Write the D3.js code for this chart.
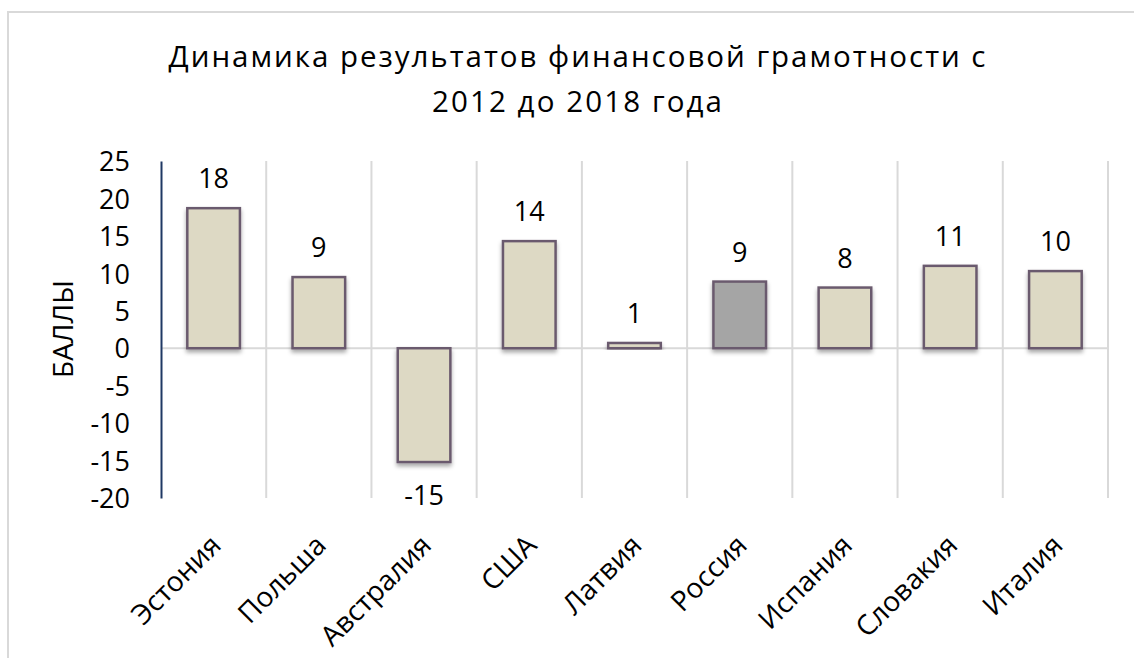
<!DOCTYPE html>
<html><head><meta charset="utf-8">
<script src="https://cdn.jsdelivr.net/npm/d3@7"></script>
<style>body{margin:0;background:#fff}svg{display:block}text{font-family:"Open Sans",sans-serif;fill:#000}</style>
</head><body>
<svg id="c" width="1134" height="658"></svg>
<script>
const categories = ["Эстония","Польша","Австралия","США","Латвия","Россия","Испания","Словакия","Италия"];
const values = [18.7, 9.5, -15.2, 14.3, 0.7, 8.9, 8.1, 11.0, 10.3];
const valueLabels = ["18","9","-15","14","1","9","8","11","10"];
const yTicks = [25,20,15,10,5,0,-5,-10,-15,-20];
const highlighted = ["Россия"];
const titleLines = ["Динамика результатов финансовой грамотности с","2012 до 2018 года"];
const yTitle = "БАЛЛЫ";

const svg = d3.select("#c");
const m = {l:161, r:1108, t:161, b:498};
const FS = 27;

svg.append("rect").attr("x",8).attr("y",12).attr("width",1200).attr("height",700)
  .attr("fill","#fff").attr("stroke","#d9d9d9").attr("stroke-width",2);

const defs = svg.append("defs");
const f = defs.append("filter").attr("id","sh").attr("x","-20%").attr("y","-20%").attr("width","140%").attr("height","140%");
f.append("feDropShadow").attr("dx",0).attr("dy",3).attr("stdDeviation",2).attr("flood-color","#000").attr("flood-opacity",0.35);

const x = d3.scaleBand().domain(categories).range([m.l,m.r]).paddingInner(0.5).paddingOuter(0.25);
const y = d3.scaleLinear().domain([d3.min(yTicks),d3.max(yTicks)]).range([m.b,m.t]);
const step = x.step();

// vertical gridlines at category boundaries
const bounds = categories.slice(1).map(c => x(c) - step*0.25).concat([m.r]);
svg.append("g").selectAll("line").data(bounds).join("line")
  .attr("x1",d=>d).attr("x2",d=>d).attr("y1",m.t).attr("y2",m.b)
  .attr("stroke","#d9d9d9").attr("stroke-width",2);

// zero line
svg.append("line").attr("x1",m.l).attr("x2",m.r).attr("y1",y(0)).attr("y2",y(0))
  .attr("stroke","#d9d9d9").attr("stroke-width",2);

// bars
const data = categories.map((c,i)=>({c, v:values[i], lab:valueLabels[i]}));
svg.append("g").selectAll("rect").data(data).join("rect")
  .attr("x",d=>x(d.c)).attr("width",x.bandwidth())
  .attr("y",d=>y(Math.max(0,d.v))).attr("height",d=>Math.abs(y(d.v)-y(0)))
  .attr("fill",d=>highlighted.includes(d.c)?"#a5a5a5":"#ddd9c4")
  .attr("stroke","#6b5a6e").attr("stroke-width",2.5)
  .attr("filter","url(#sh)");

// value labels
svg.append("g").selectAll("text").data(data).join("text")
  .attr("x",d=>x(d.c)+x.bandwidth()/2)
  .attr("y",d=>d.v>=0 ? y(d.v)-20 : y(d.v)+43)
  .attr("text-anchor","middle").attr("font-size",FS).text(d=>d.lab);

// y axis
const ya = svg.append("g").attr("transform",`translate(${m.l},0)`)
  .call(d3.axisLeft(y).tickValues(yTicks).tickSize(0).tickPadding(31).tickFormat(d=>String(d)));
ya.select(".domain").attr("stroke","#1f3864").attr("stroke-width",2);
ya.selectAll("text").attr("font-size",FS).attr("font-family","Open Sans").attr("fill","#000").attr("dy","0.36em");

// x axis labels
const xa = svg.append("g").attr("transform",`translate(0,${m.b})`)
  .call(d3.axisBottom(x).tickSize(0).tickPadding(0));
xa.select(".domain").remove();
xa.selectAll("text").attr("font-size",28).attr("font-family","Open Sans").attr("fill","#000")
  .attr("text-anchor","end").attr("dy",0).attr("y",0)
  .attr("transform","translate(9,49) rotate(-45)");

// y title
svg.append("text").attr("transform","translate(73,329) rotate(-90)")
  .attr("text-anchor","middle").attr("font-size",28).text(yTitle);

// title
const tW = [817, 290];
svg.append("g").selectAll("text").data(titleLines).join("text")
  .attr("x",577).attr("y",(d,i)=>67+i*45).attr("text-anchor","middle")
  .attr("font-size",29.5).attr("textLength",(d,i)=>tW[i]).attr("lengthAdjust","spacing").text(d=>d);
</script>
</body></html>
